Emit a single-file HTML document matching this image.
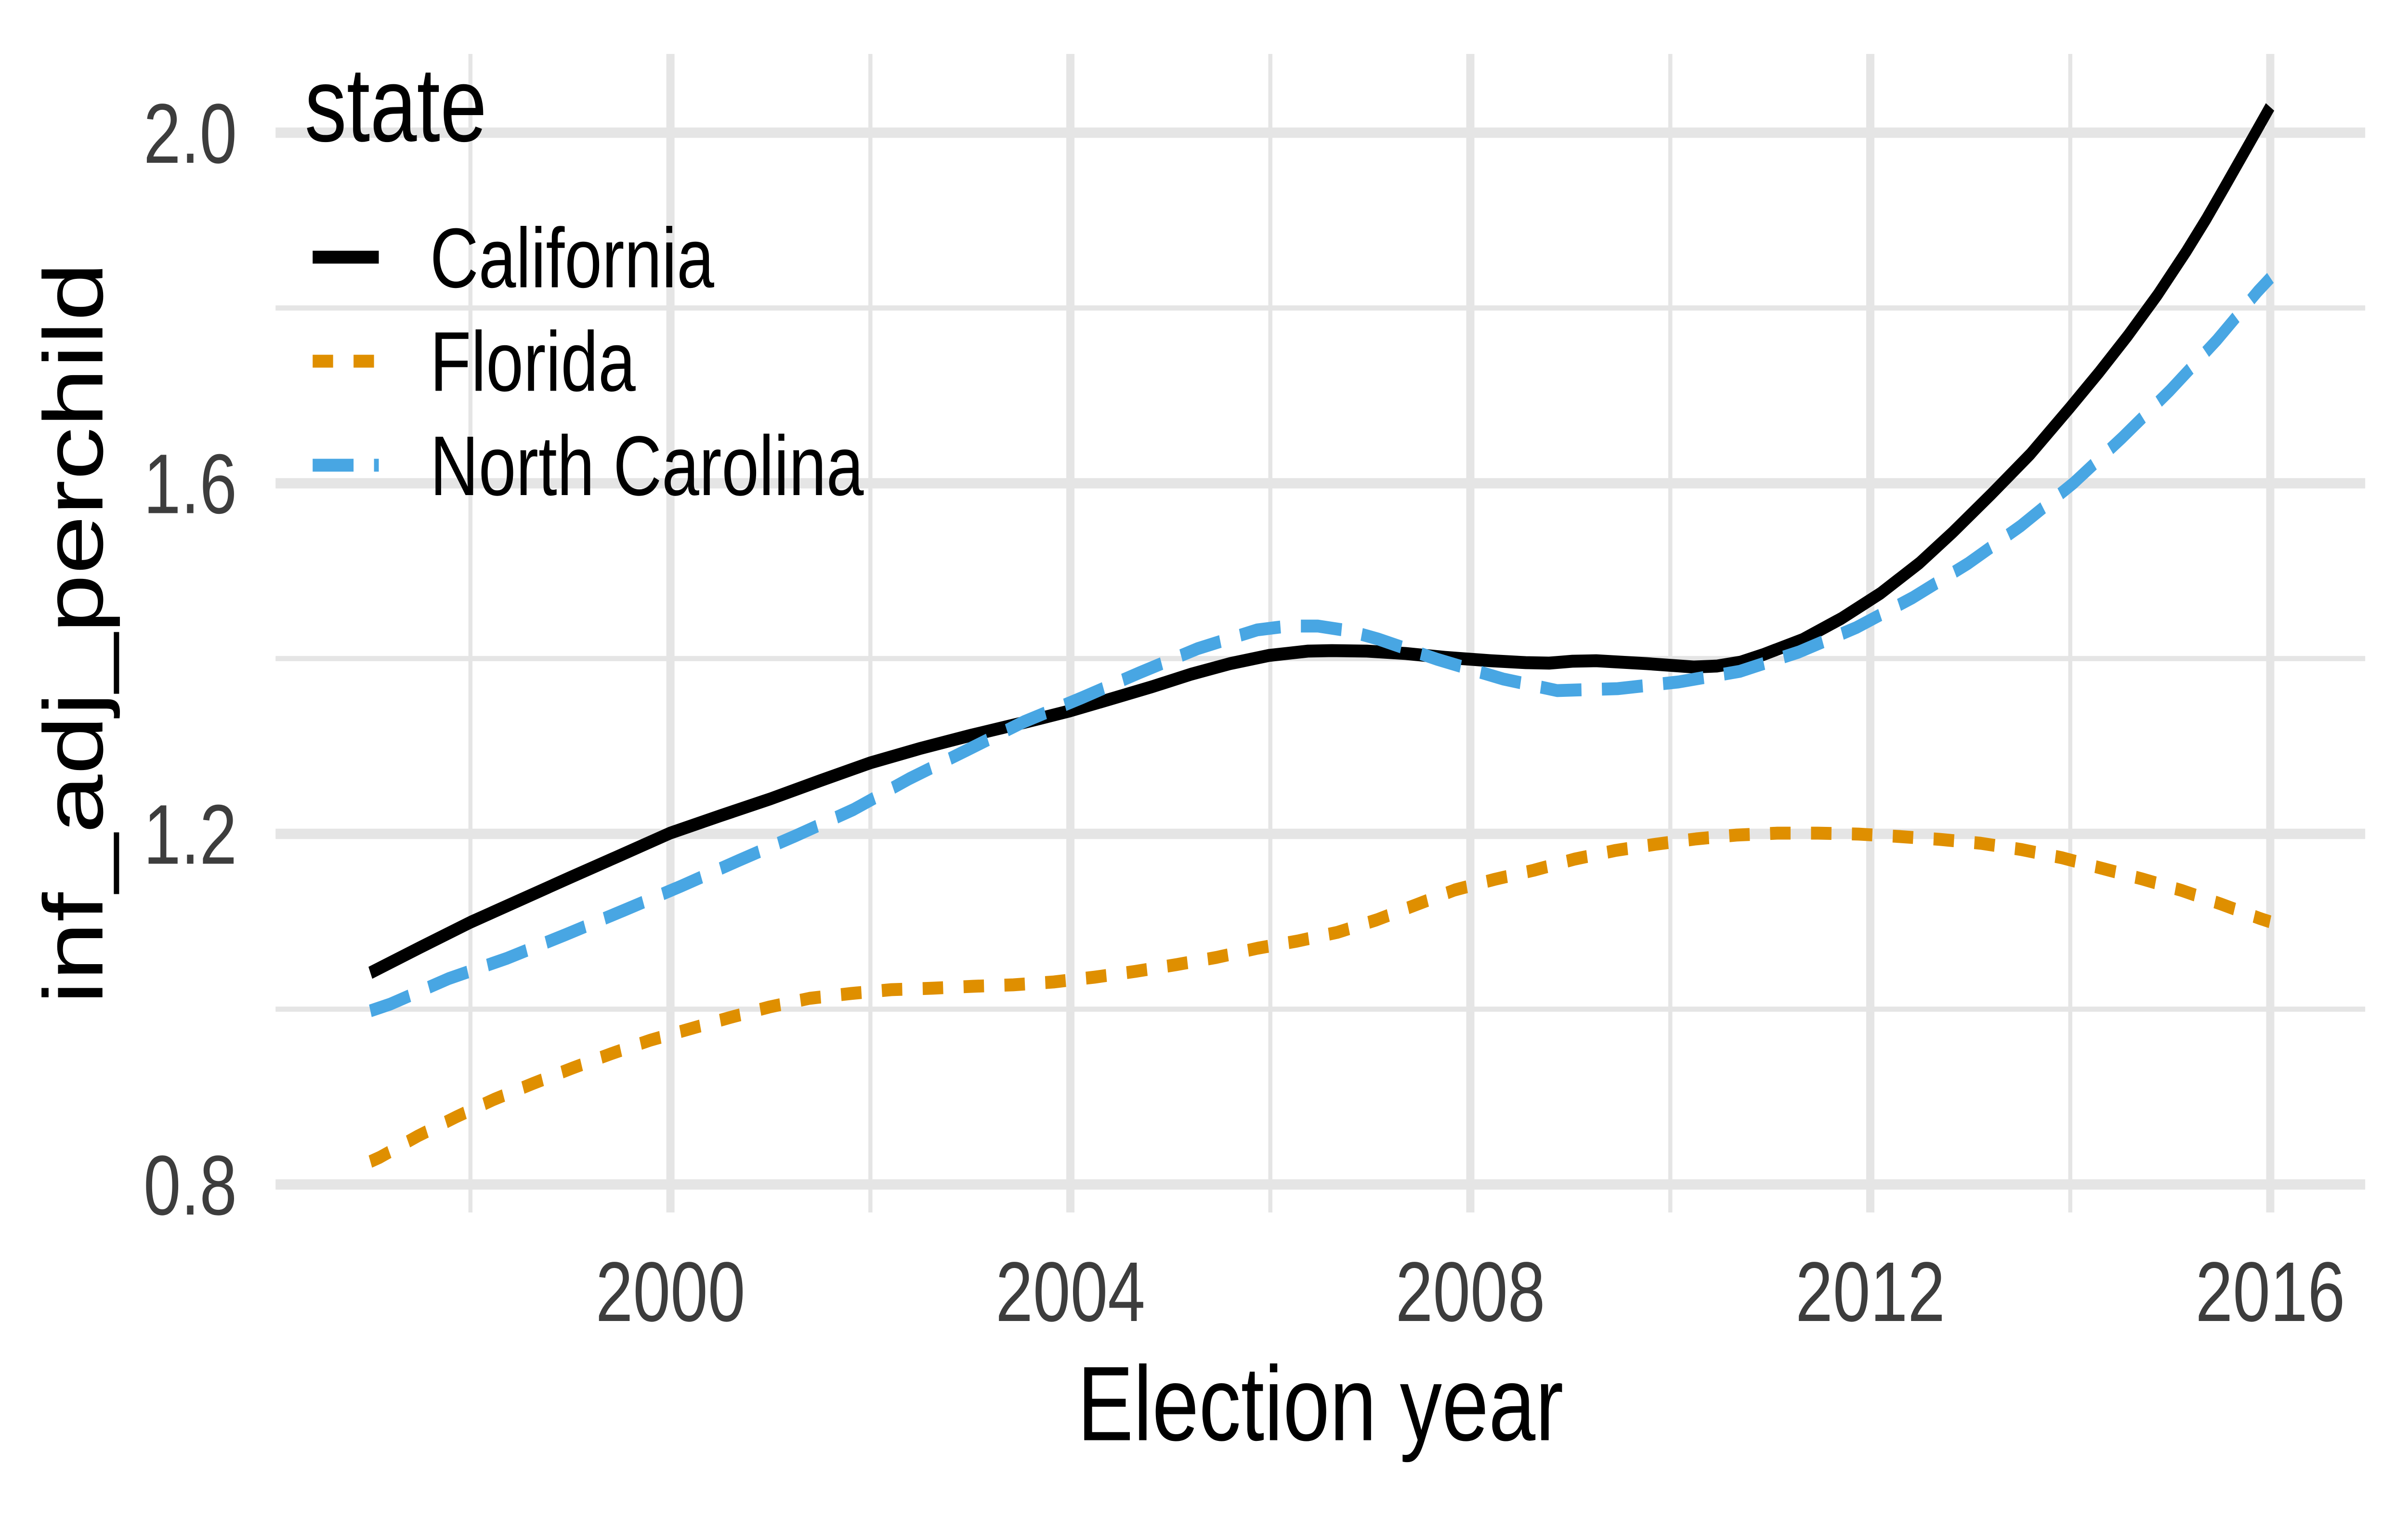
<!DOCTYPE html>
<html>
<head>
<meta charset="utf-8">
<style>
  html, body { margin: 0; padding: 0; background: #ffffff; width: 100%; height: 100%; overflow: hidden; }
  svg { display: block; width: 100vw; height: 100vh; }
  text { font-family: "Liberation Sans", Arial, sans-serif; }
</style>
</head>
<body>
<svg viewBox="0 0 6300 3150" preserveAspectRatio="none" xmlns="http://www.w3.org/2000/svg">
  <rect x="0" y="0" width="6300" height="3150" fill="#ffffff"/>

  <!-- minor gridlines -->
  <g stroke="#E5E5E5" stroke-width="10.7" fill="none">
    <line x1="721" y1="639.5" x2="6188" y2="639.5"/>
    <line x1="721" y1="1367.5" x2="6188" y2="1367.5"/>
    <line x1="721" y1="2095.5" x2="6188" y2="2095.5"/>
    <line x1="1230.8" y1="112" x2="1230.8" y2="2517.6"/>
    <line x1="2277.2" y1="112" x2="2277.2" y2="2517.6"/>
    <line x1="3323.6" y1="112" x2="3323.6" y2="2517.6"/>
    <line x1="4370" y1="112" x2="4370" y2="2517.6"/>
    <line x1="5416.4" y1="112" x2="5416.4" y2="2517.6"/>
  </g>
  <!-- major gridlines -->
  <g stroke="#E5E5E5" stroke-width="21.4" fill="none">
    <line x1="721" y1="275.5" x2="6188" y2="275.5"/>
    <line x1="721" y1="1003.5" x2="6188" y2="1003.5"/>
    <line x1="721" y1="1731.5" x2="6188" y2="1731.5"/>
    <line x1="721" y1="2459.5" x2="6188" y2="2459.5"/>
    <line x1="1754" y1="112" x2="1754" y2="2517.6"/>
    <line x1="2800.4" y1="112" x2="2800.4" y2="2517.6"/>
    <line x1="3846.8" y1="112" x2="3846.8" y2="2517.6"/>
    <line x1="4893.2" y1="112" x2="4893.2" y2="2517.6"/>
    <line x1="5939.6" y1="112" x2="5939.6" y2="2517.6"/>
  </g>

  <!-- California (solid black) -->
  <path fill="none" stroke="#000000" stroke-width="26.75" stroke-linejoin="round" stroke-linecap="butt"
    d="M969,2020 L1100,1967 L1231,1915 L1363,1868 L1492,1822 L1623,1776 L1753,1730 L1884,1694 L2015,1659 L2146,1621 L2277,1584 L2408,1554 L2539,1527 L2670,1502 L2800,1476 L2912,1450 L3014,1426 L3116,1400 L3218,1378 L3320,1361 L3422,1352 L3484,1351 L3576,1352 L3678,1357 L3780,1365 L3900,1372 L3992,1376 L4053,1377 L4114,1373 L4176,1372 L4308,1378 L4431,1385 L4492,1383 L4553,1375 L4614,1359 L4716,1328 L4818,1284 L4920,1232 L5022,1169 L5108,1106 L5210,1026 L5312,943 L5416,846 L5492,773 L5567,697 L5645,612 L5720,522 L5772,455 L5822,386 L5880,305 L5939,222"/>

  <!-- Florida (orange, short dashes) -->
  <path fill="none" stroke="#DF8F00" stroke-width="26.75" stroke-linejoin="round" stroke-linecap="butt" stroke-dasharray="53.5 53.5"
    d="M969,2412 L994,2403 L1093,2359 L1194,2319 L1292,2283 L1394,2250 L1497,2218 L1599,2188 L1701,2160 L1807,2136 L1909,2113 L2013,2091 L2118,2073 L2226,2063 L2332,2055 L2439,2052 L2546,2048 L2651,2045 L2757,2039 L2864,2029 L2971,2017 L3078,2003 L3183,1988 L3290,1969 L3395,1954 L3499,1936 L3602,1910 L3704,1879 L3806,1848 L3910,1826 L4013,1807 L4119,1784 L4226,1766 L4332,1753 L4437,1742 L4543,1734 L4650,1730 L4756,1730 L4863,1732 L4969,1737 L5076,1743 L5182,1751 L5288,1764 L5394,1781 L5499,1803 L5604,1825 L5708,1849 L5810,1877 L5912,1907 L5939,1914"/>

  <!-- North Carolina (blue, long dashes) -->
  <path fill="none" stroke="#48A6E3" stroke-width="26.75" stroke-linejoin="round" stroke-linecap="butt" stroke-dasharray="107 53.5"
    d="M969,2099 L1021,2085 L1174,2032 L1326,1990 L1479,1941 L1630,1891 L1782,1840 L1932,1787 L2083,1735 L2233,1681 L2379,1617 L2529,1558 L2678,1499 L2830,1449 L2981,1397 L3133,1347 L3289,1308 L3370,1300 L3448,1300 L3530,1310 L3606,1327 L3760,1369 L3933,1410 L4074,1434 L4232,1430 L4392,1416 L4552,1394 L4706,1354 L4857,1303 L5004,1241 L5149,1170 L5287,1092 L5425,1003 L5552,909 L5677,811 L5800,706 L5907,605 L5940,577"/>

  <!-- legend -->
  <text x="797" y="293" font-size="220" fill="#000000">state</text>
  <line x1="818" y1="534" x2="991" y2="534" stroke="#000000" stroke-width="26.75"/>
  <line x1="818" y1="750" x2="991" y2="750" stroke="#DF8F00" stroke-width="26.75" stroke-dasharray="53.5 53.5"/>
  <line x1="818" y1="966" x2="991" y2="966" stroke="#48A6E3" stroke-width="26.75" stroke-dasharray="107 53.5"/>
  <text x="1125" y="596.5" font-size="176" fill="#000000">California</text>
  <text x="1125" y="811.5" font-size="176" fill="#000000">Florida</text>
  <text x="1125" y="1028" font-size="176" fill="#000000">North Carolina</text>

  <!-- y axis tick labels -->
  <g font-size="176" fill="#3D3D3D" text-anchor="end">
    <text x="620" y="338">2.0</text>
    <text x="620" y="1065.5">1.6</text>
    <text x="620" y="1793.5">1.2</text>
    <text x="620" y="2522">0.8</text>
  </g>

  <!-- x axis tick labels -->
  <g font-size="176" fill="#3D3D3D" text-anchor="middle">
    <text x="1754" y="2743">2000</text>
    <text x="2800.4" y="2743">2004</text>
    <text x="3846.8" y="2743">2008</text>
    <text x="4893.2" y="2743">2012</text>
    <text x="5939.6" y="2743">2016</text>
  </g>

  <!-- axis titles -->
  <text x="3454.5" y="2990.5" font-size="220" fill="#000000" text-anchor="middle">Election year</text>
  <text transform="translate(268,1315) rotate(-90)" x="0" y="0" font-size="220" fill="#000000" text-anchor="middle">inf_adj_perchild</text>
</svg>
</body>
</html>
